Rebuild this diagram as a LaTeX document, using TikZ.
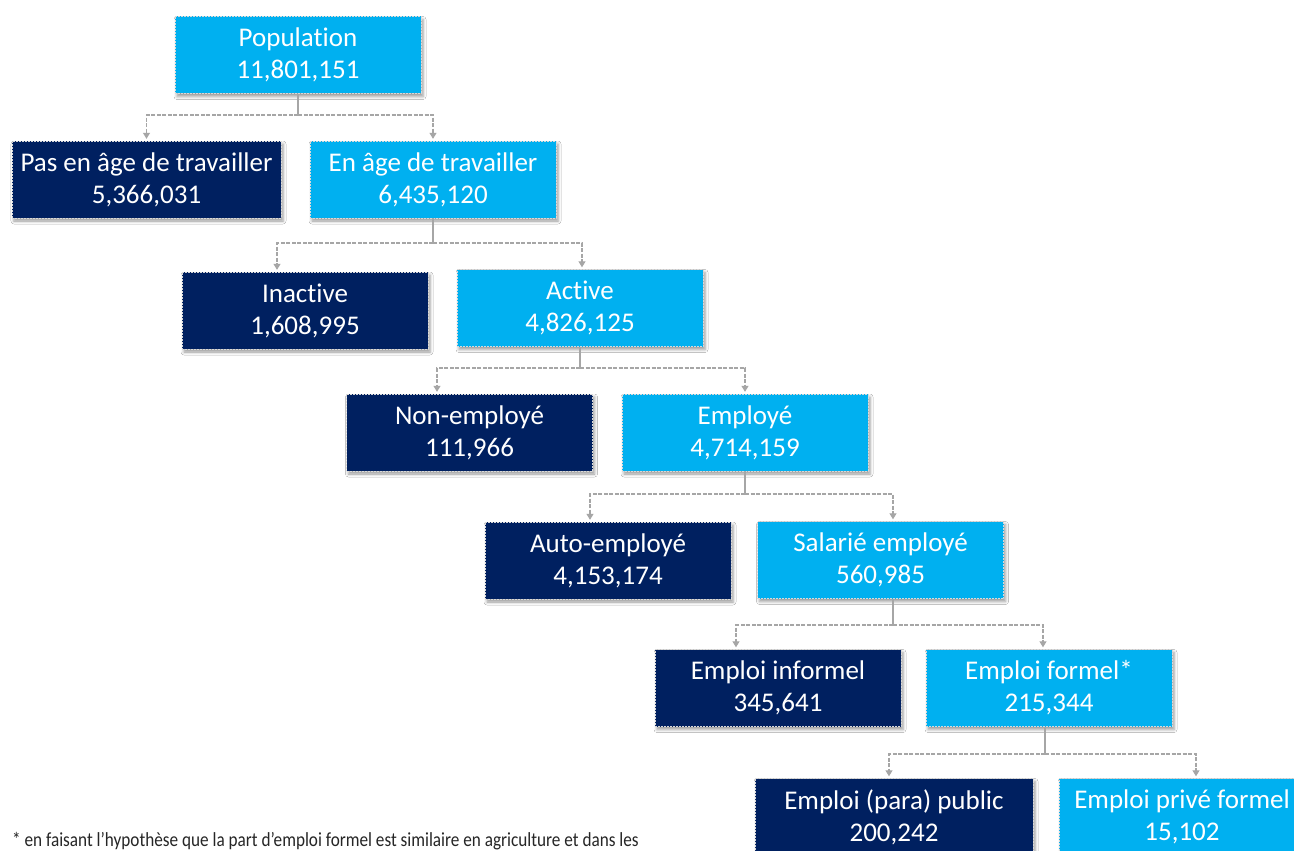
\documentclass[tikz,border=0pt]{standalone}
\usepackage{fontspec}
\setmainfont[RawFeature=-liga]{Carlito}
\newfontfamily\notefont[FakeStretch=0.86]{Carlito}
\usetikzlibrary{arrows.meta,shadows.blur}
\definecolor{skyfill}{HTML}{00B0F0}
\definecolor{navyfill}{HTML}{002060}
\definecolor{linkgray}{HTML}{A6A6A6}
\tikzset{
  box/.style={minimum height=77pt, minimum width=246pt, inner sep=0pt, align=center,
    text=white, font=\fontsize{27}{32}\selectfont,
    draw=gray!30, dash pattern=on 2pt off 1pt, line width=0.4pt,
    blur shadow={shadow xshift=2pt, shadow yshift=-3pt, shadow blur radius=3pt, shadow opacity=40}},
  lightbox/.style={box, fill=skyfill},
  darkbox/.style={box, fill=navyfill},
  stem/.style={draw=linkgray, line width=1.1pt},
  branch/.style={draw=linkgray, line width=1.1pt, dash pattern=on 4pt off 1.5pt,
    shorten >=2pt, -{Triangle[width=7pt,length=6pt]}},
}
\begin{document}
\begin{tikzpicture}[x=1pt,y=-1pt]
\useasboundingbox (0,0) rectangle (1294,851);
\clip (0,0) rectangle (1294,851);
\fill[white] (0,0) rectangle (1294,851);

% boxes
\node[lightbox] (pop) at (298,55) {Population\\11,801,151};
\node[darkbox, minimum width=269pt] (pas) at (146.5,179.5) {Pas en âge de travailler\\5,366,031};
\node[lightbox] (enage) at (433,179.5) {En âge de travailler\\6,435,120};
\node[darkbox] (inact) at (305,310.5) {Inactive\\1,608,995};
\node[lightbox] (active) at (580,308) {Active\\4,826,125};
\node[darkbox] (nonemp) at (469.5,432.5) {Non-employé\\111,966};
\node[lightbox] (emp) at (745,432.5) {Employé\\4,714,159};
\node[darkbox] (auto) at (608,560.5) {Auto-employé\\4,153,174};
\node[lightbox] (sal) at (880.5,560) {Salarié employé\\560,985};
\node[darkbox] (inf) at (778,688) {Emploi informel\\345,641};
\node[lightbox] (formel) at (1049,688) {Emploi formel*\\215,344};
\node[darkbox, minimum width=278pt] (public) at (894,817) {Emploi (para) public\\200,242};
\node[lightbox] (prive) at (1182,817) {Emploi privé formel\\15,102};

% junction points below each parent
\coordinate (j1) at (298,115);
\coordinate (j2) at (433,243);
\coordinate (j3) at (580,368);
\coordinate (j4) at (745,494);
\coordinate (j5) at (893,625);
\coordinate (j6) at (1045,754);

% connectors
\draw[stem] (pop.south) -- (j1);
\draw[branch] (j1) -| (pas.north);
\draw[branch] (j1) -| (enage.north);

\draw[stem] (enage.south) -- (j2);
\draw[branch] (j2) -| ([xshift=-28pt]inact.north);
\draw[branch] (j2) -| ([xshift=2pt]active.north);

\draw[stem] (active.south) -- (j3);
\draw[branch] (j3) -| ([xshift=-32.5pt]nonemp.north);
\draw[branch] (j3) -| (emp.north);

\draw[stem] (emp.south) -- (j4);
\draw[branch] (j4) -| ([xshift=-18pt]auto.north);
\draw[branch] (j4) -| ([xshift=12.5pt]sal.north);

\draw[stem] ([xshift=12.5pt]sal.south) -- (j5);
\draw[branch] (j5) -| ([xshift=-42pt]inf.north);
\draw[branch] (j5) -| ([xshift=-6pt]formel.north);

\draw[stem] ([xshift=-4pt]formel.south) -- (j6);
\draw[branch] (j6) -| ([xshift=-5pt]public.north);
\draw[branch] (j6) -| ([xshift=14pt]prive.north);

% footnote
\node[anchor=base west, inner sep=0pt, text=black!85,
      font=\notefont\fontsize{20}{22}\selectfont] (note) at (12,846)
  {* en faisant l’hypothèse que la part d’emploi formel est similaire en agriculture et dans les};
\end{tikzpicture}
\end{document}
